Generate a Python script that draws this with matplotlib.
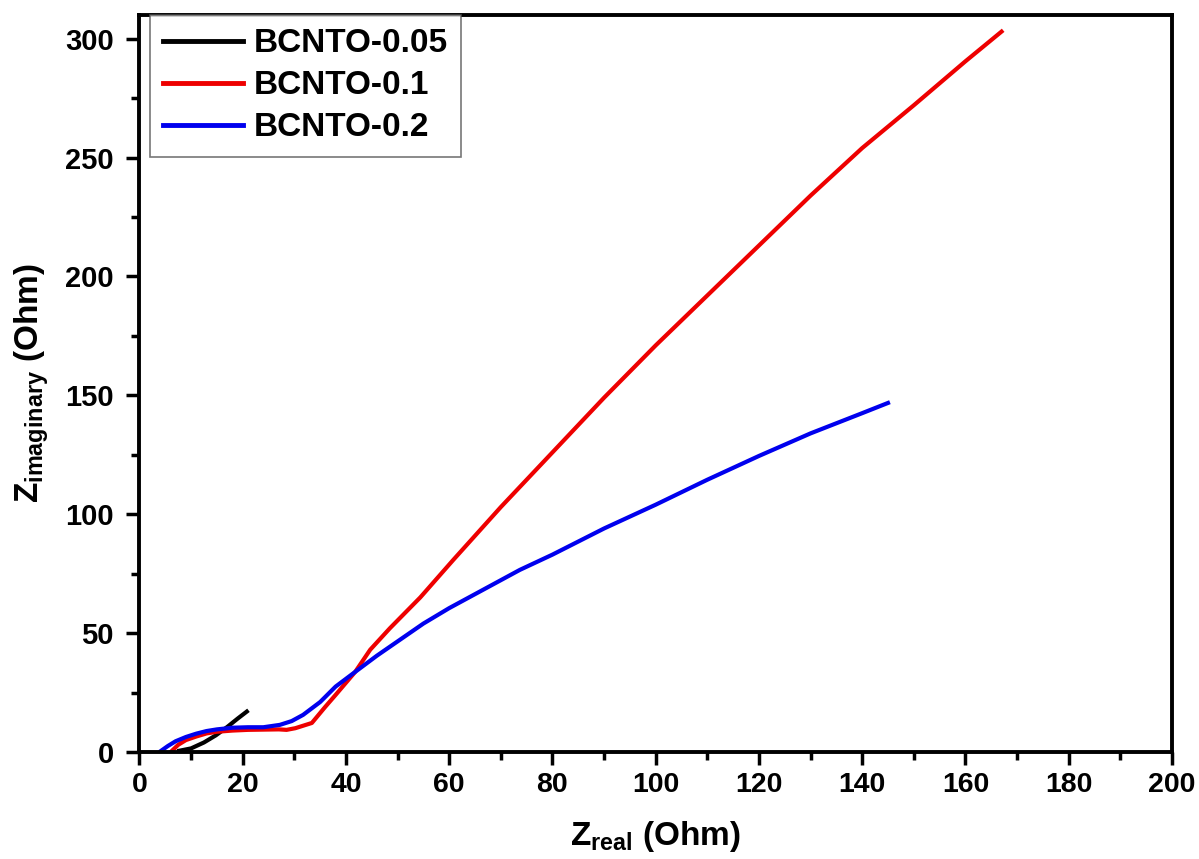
import matplotlib.pyplot as plt

# impedance data (Ohm)
x_005 = [7.7, 10, 12.5, 14.8, 17, 19, 20.8]
y_005 = [0.5, 1.5, 4, 7, 10.5, 14, 17]

x_01 = [6.3, 7.5, 9, 11, 13, 15, 18, 21, 24, 27, 28.5, 30.2, 33.4, 36, 38, 41.8, 44.7, 48.5, 54.4, 60.8, 70,
        80, 90, 100, 110, 120, 130, 140, 150, 160, 167]
y_01 = [0.5, 3, 5, 6.5, 7.8, 8.5, 9, 9.3, 9.4, 9.5, 9.3, 10, 12.2, 19, 24, 33.7, 43, 52, 65, 80.8, 103,
        126, 149, 171, 192, 213, 234, 254, 272, 290.5, 303]

x_02 = [4.2, 5.5, 7, 9, 11, 13, 15, 18, 21, 24, 27.2, 29.5, 31.7, 35, 38, 41.8, 46, 50, 55, 60, 73.7,
        80, 90, 100, 110, 120, 130, 140, 145]
y_02 = [0.5, 2.5, 4.5, 6.3, 7.7, 8.8, 9.5, 10.2, 10.4, 10.4, 11.4, 13, 15.6, 21, 27.5, 33.7, 40.5, 46.5, 54, 60.5,
        76.6, 83, 94, 104, 114.5, 124.5, 134, 142.5, 146.8]

fig = plt.figure(figsize=(11.99, 8.59), dpi=100)
ax = fig.add_axes([0.1163, 0.1246, 0.8611, 0.858])

ax.plot(x_005, y_005, color='black', lw=3, label='BCNTO-0.05')
ax.plot(x_01, y_01, color='#ee0000', lw=3, label='BCNTO-0.1')
ax.plot(x_02, y_02, color='#0000ee', lw=3, label='BCNTO-0.2')

ax.set_xlim(0, 200)
ax.set_ylim(0, 310)
ax.set_xticks(range(0, 201, 20))
ax.set_xticks(range(0, 201, 10), minor=True)
ax.set_yticks(range(0, 301, 50))
ax.set_yticks(range(0, 301, 25), minor=True)

for s in ax.spines.values():
    s.set_linewidth(2.8)
ax.tick_params(which='major', direction='out', length=9.5, width=2.5, top=False, right=False)
ax.tick_params(which='minor', direction='out', length=6, width=2.5, top=False, right=False)
ax.tick_params(axis='y', which='major', pad=9)
ax.tick_params(axis='x', which='major', pad=5)

for lab in ax.get_xticklabels():
    lab.set_family('Liberation Sans')
    lab.set_fontweight('bold')
    lab.set_fontsize(20.5)
for lab in ax.get_yticklabels():
    lab.set_family('Liberation Sans')
    lab.set_fontweight('bold')
    lab.set_fontsize(21)

ax.set_xlabel(r'Z$_{\mathregular{real}}$ (Ohm)', fontsize=24, fontweight='bold',
              family='Liberation Sans', labelpad=15)
ax.set_ylabel(r'Z$_{\mathregular{imaginary}}$ (Ohm)', fontsize=24, fontweight='bold',
              family='Liberation Sans', labelpad=10)

leg = ax.legend(loc='upper left', bbox_to_anchor=(0.0102, 1.0),
                prop={'family': 'Liberation Sans', 'weight': 'bold', 'size': 24},
                fancybox=False, edgecolor='#555555', handlelength=2.4, borderaxespad=0,
                labelspacing=0.33, handletextpad=0.3, borderpad=0.4)
leg.get_frame().set_linewidth(1.2)
for line in leg.get_lines():
    line.set_linewidth(3.5)

fig.savefig('out.png', dpi=100)
